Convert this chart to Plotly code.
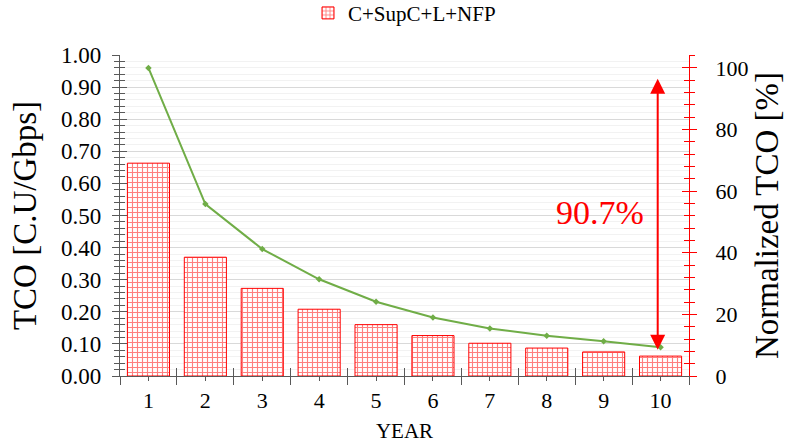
import plotly.graph_objects as go

years = [1, 2, 3, 4, 5, 6, 7, 8, 9, 10]
year_labels = ["1", "2", "3", "4", "5", "6", "7", "8", "9", "10"]
tco = [0.663, 0.370, 0.273, 0.208, 0.160, 0.126, 0.102, 0.087, 0.075, 0.062]
norm_tco = [100, 55.8, 41.2, 31.4, 24.1, 19.0, 15.4, 13.1, 11.3, 9.3]
series_name = "C+SupC+L+NFP"
reduction_text = "90.7%"
arrow_top, arrow_bottom = 97, 8.5
boundaries = [y - 0.5 for y in years] + [years[-1] + 0.5]

FONT = "Liberation Serif"
RED = "#ff0000"
AX = "#595959"

fig = go.Figure()
fig.add_trace(go.Bar(
    x=years, y=tco, name=series_name, width=0.74,
    marker=dict(color="white", line=dict(color=RED, width=1),
                pattern=dict(shape="+", fgcolor=RED, bgcolor="white", size=5, solidity=0.4)),
    yaxis="y", xaxis="x",
))
fig.add_trace(go.Scatter(
    x=years, y=norm_tco, mode="lines+markers", showlegend=False,
    line=dict(color="#70ad47", width=2),
    marker=dict(symbol="diamond", size=5, color="#70ad47"),
    yaxis="y2", xaxis="x",
))
# invisible helpers so overlay axes render (for crossing ticks)
fig.add_trace(go.Scatter(x=[years[0]], y=[0], xaxis="x2", yaxis="y3", mode="markers",
                         marker=dict(opacity=0), showlegend=False, hoverinfo="skip"))
fig.add_trace(go.Scatter(x=[years[0]], y=[0], xaxis="x2", yaxis="y4", mode="markers",
                         marker=dict(opacity=0), showlegend=False, hoverinfo="skip"))

fig.add_annotation(x=9.95, y=arrow_bottom, ax=9.95, ay=arrow_top, xref="x", yref="y2",
                   axref="x", ayref="y2", text="", showarrow=True, arrowhead=2,
                   arrowside="end+start", arrowsize=1.5, arrowwidth=2, arrowcolor=RED)
fig.add_annotation(x=8.93, y=0.51, xref="x", yref="y", text=reduction_text, showarrow=False,
                   font=dict(family=FONT, size=34, color=RED))

fig.update_layout(
    width=787, height=443,
    margin=dict(l=120, r=98, t=55, b=67, autoexpand=False),
    paper_bgcolor="white", plot_bgcolor="white",
    font=dict(family=FONT, size=21, color="#000000"),
    showlegend=True,
    legend=dict(orientation="h", x=0.5, xanchor="center", y=1.13, yanchor="middle",
                font=dict(family=FONT, size=21), itemwidth=30),
    xaxis=dict(range=[0.5, 10.5], tickvals=years, ticktext=year_labels,
               ticks="outside", ticklen=4, tickcolor=AX, showline=True, linecolor=AX,
               linewidth=1.2, showgrid=False, zeroline=False, ticklabelstandoff=0,
               minor=dict(tickvals=boundaries, ticks="outside", ticklen=8, tickcolor=AX),
               title=dict(text="YEAR", font=dict(family=FONT, size=21), standoff=12),
               tickfont=dict(family=FONT, size=22), anchor="y", automargin=False),
    xaxis2=dict(range=[0.5, 10.5], overlaying="x", anchor="y", side="bottom",
                tickvals=boundaries, ticks="inside", ticklen=8, tickcolor=AX,
                showticklabels=False, showgrid=False, zeroline=False, showline=False),
    yaxis=dict(range=[0, 1.0], dtick=0.1, tickformat=".2f", ticks="outside", ticklen=7,
               tickcolor=AX, showline=True, linecolor=AX, linewidth=1.2,
               showgrid=True, gridcolor="#d9d9d9", gridwidth=1, zeroline=False,
               minor=dict(dtick=0.02, ticks="outside", ticklen=5, tickcolor=AX,
                          showgrid=True, gridcolor="#f2f2f2"),
               ticklabelstandoff=6, tickfont=dict(family=FONT, size=23), automargin=False,
               title=dict(text="TCO [C.U/Gbps]", font=dict(family=FONT, size=33), standoff=14)),
    yaxis3=dict(range=[0, 1.0], overlaying="y", side="left", dtick=0.1, ticks="inside",
                ticklen=7, tickcolor=AX, showticklabels=False, showgrid=False,
                zeroline=False, showline=False,
                minor=dict(dtick=0.02, ticks="inside", ticklen=5, tickcolor=AX)),
    yaxis2=dict(range=[0, 104.2], overlaying="y", side="right", dtick=20, ticks="outside",
                ticklen=7, tickcolor=RED, showline=True, linecolor=RED, linewidth=1.2,
                showgrid=False, zeroline=False, ticklabelstandoff=14, automargin=False,
                minor=dict(dtick=4, ticks="outside", ticklen=5, tickcolor=RED),
                tickfont=dict(family=FONT, size=22),
                title=dict(text="Normalized TCO [%]", font=dict(family=FONT, size=33), standoff=6)),
    yaxis4=dict(range=[0, 104.2], overlaying="y", side="right", dtick=20, ticks="inside",
                ticklen=7, tickcolor=RED, showticklabels=False, showgrid=False,
                zeroline=False, showline=False,
                minor=dict(dtick=4, ticks="inside", ticklen=5, tickcolor=RED)),
)

fig.write_html("out.html")
